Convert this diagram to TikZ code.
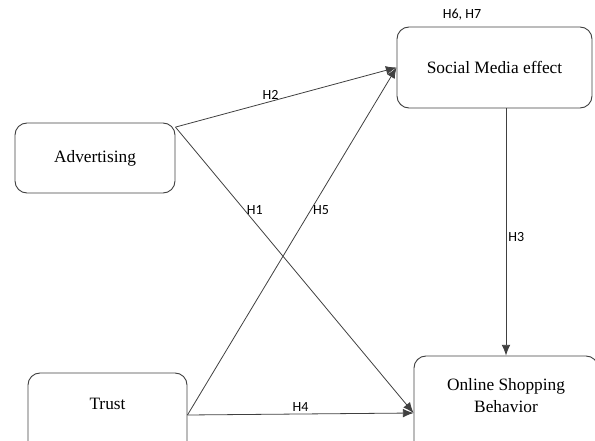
\documentclass[tikz,border=0pt]{standalone}
\usepackage{fontspec}
\setmainfont{Liberation Serif}
\newfontfamily\lblfont{Carlito}
\usepackage{tikz}
\usetikzlibrary{positioning, arrows.meta}

\begin{document}
\begin{tikzpicture}[x=0.75pt, y=-0.75pt,
        box/.style={draw=black!75, line width=0.7pt, rounded corners=9pt, align=center, font=\fontsize{13}{16.5}\selectfont},
        link/.style={draw=black!75, line width=0.6pt, -{Latex[length=8pt, width=6.5pt]}},
        hyp/.style={font=\lblfont\fontsize{10.5}{12}\selectfont, inner sep=1.5pt}]
            \useasboundingbox (0, 0) rectangle (595, 441);
            \clip (0, 0) rectangle (595, 441);
            \node[box, minimum width=195*0.75pt, minimum height=81*0.75pt] (soc) at (494.5, 67.5) {Social Media effect};
            \node[box, minimum width=160*0.75pt, minimum height=70*0.75pt] (adv) at (95, 158) {Advertising};
            \node[box, minimum width=159*0.75pt, minimum height=84*0.75pt] (tru) at (107.5, 415) {Trust\\[0em]};
            \node[box, minimum width=184*0.75pt, minimum height=114*0.75pt] (onl) at (506, 413) {Online Shopping\\Behavior\\[0.8em]};
            \node[hyp] (h67) at (462, 15) {H6, H7};
            
            \draw[link] (adv.21) -- node[hyp, pos=0.43, above] {H2} (soc.west);
            \draw[link] (adv.21) -- node[hyp, pos=0.29, right] {H1} (onl.west);
            \draw[link] (tru.east) -- node[hyp, pos=0.59, right] {H5} (soc.west);
            \draw[link] (tru.east) -- node[hyp, pos=0.5, above] {H4} (onl.west);
            \draw[link] (soc.south -| onl.north) -- node[hyp, pos=0.52, right] {H3} (onl.north);
        \end{tikzpicture}
\end{document}
